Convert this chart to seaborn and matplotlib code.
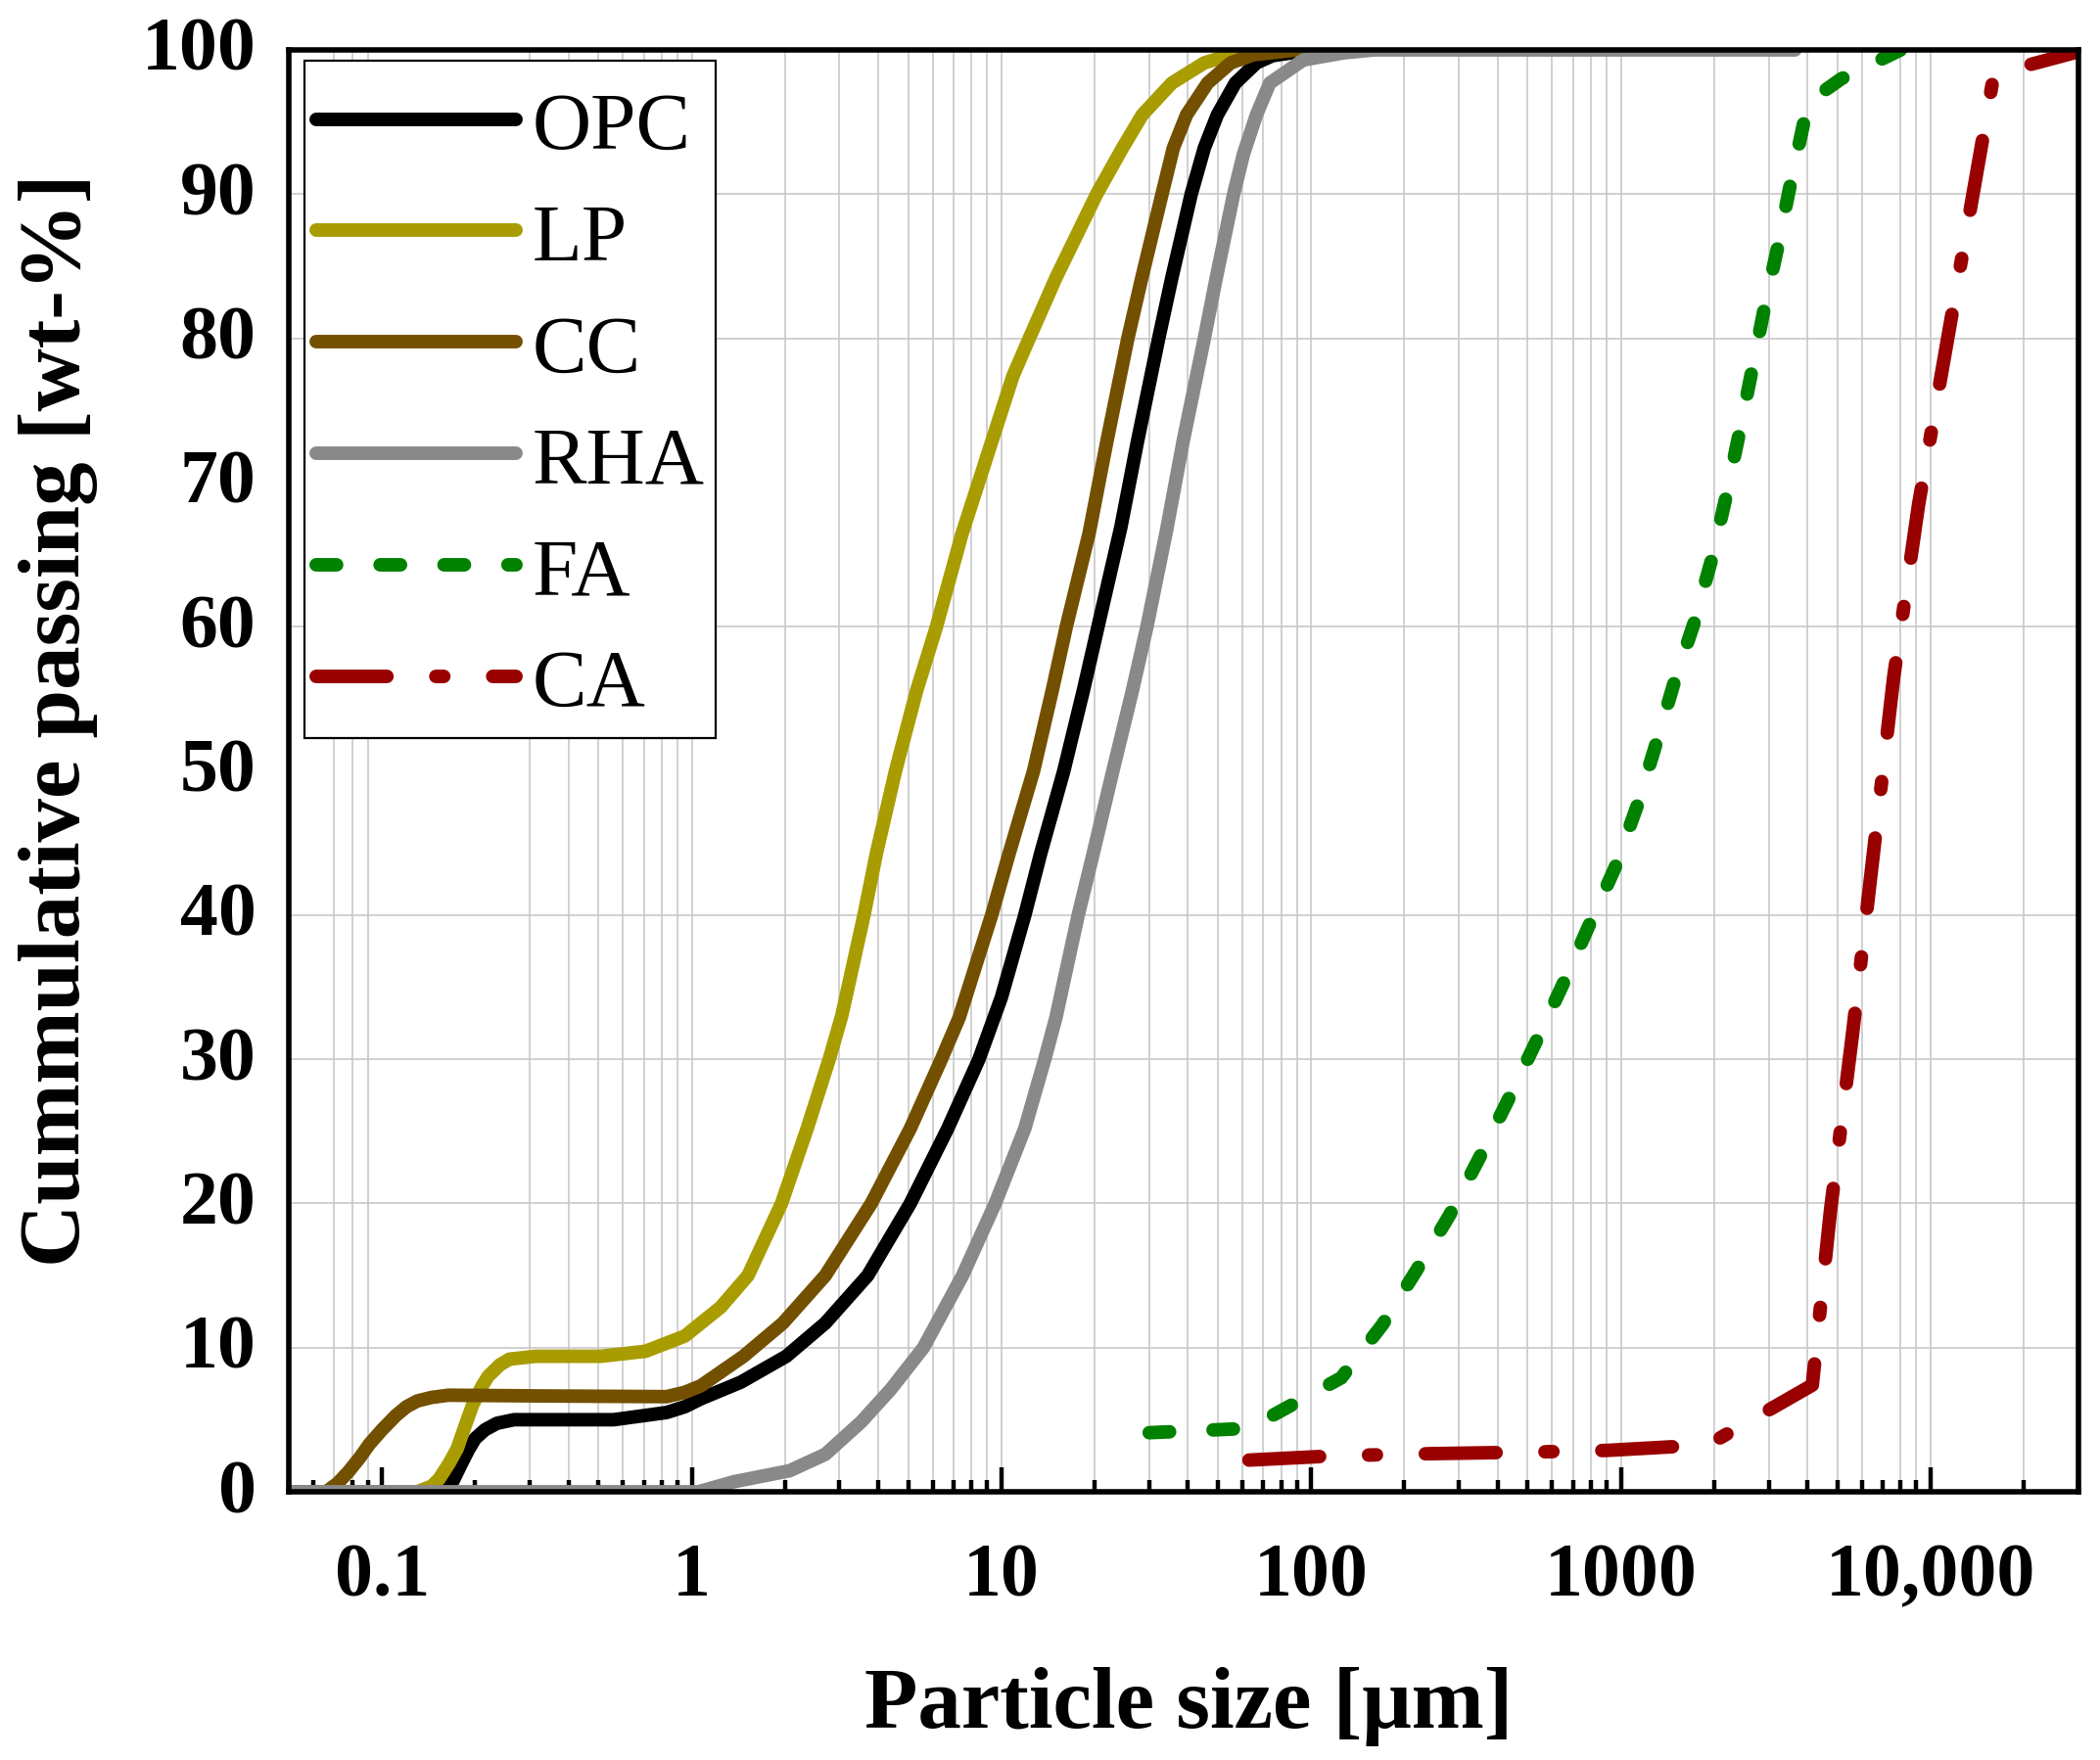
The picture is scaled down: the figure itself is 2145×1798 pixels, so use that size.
import numpy as np
import pandas as pd
import seaborn as sns
import matplotlib.pyplot as plt
from matplotlib.patches import Rectangle
from matplotlib.ticker import FixedLocator, FixedFormatter, LogLocator, NullFormatter
from matplotlib.transforms import ScaledTranslation

# particle size [um] / cumulative passing [wt-%]
opc_size = [0.05, 0.16, 0.17, 0.18, 0.19, 0.2, 0.215, 0.235, 0.267, 0.56, 0.83, 0.95, 1.07,
            1.44, 2.02, 2.7, 3.7, 5.08, 6.71, 8.46, 10.0, 11.9, 13.4, 15.9, 18.4, 20.5, 24.3,
            27.5, 32.2, 35.5, 41, 45.2, 49.8, 56.9, 66.6, 75, 100, 150]
opc_pass = [0, 0, 0.8, 1.9, 2.9, 3.7, 4.3, 4.75, 5.0, 5.0, 5.5, 5.9, 6.45,
            7.6, 9.4, 11.7, 15.0, 20, 25.2, 30, 34.3, 40, 44.3, 50, 55.6, 60, 66.9,
            72.85, 80, 84.2, 90, 93.2, 95.5, 97.7, 99.1, 99.6, 100, 100]

lp_size = [0.05, 0.13, 0.145, 0.153, 0.165, 0.175, 0.185, 0.196, 0.21, 0.22, 0.24, 0.258,
           0.314, 0.51, 0.71, 0.95, 1.24, 1.52, 1.95, 2.36, 2.78, 3.05, 3.6, 3.95, 4.55,
           5.33, 6.17, 7.45, 9.31, 10.9, 12.3, 15.0, 20.3, 24.6, 28.5, 35.5, 45.2, 54.9, 70, 150]
lp_pass = [0, 0, 0.4, 0.9, 2.0, 3.0, 4.5, 6.0, 7.3, 8.0, 8.8, 9.2,
           9.4, 9.4, 9.75, 10.8, 12.8, 15.0, 20, 25.2, 30, 33.0, 40, 44.3, 50,
           55.6, 60, 66.4, 72.85, 77.4, 80, 84.2, 90, 93.2, 95.5, 97.7, 99.1, 99.66, 100, 100]

cc_size = [0.05, 0.066, 0.072, 0.078, 0.085, 0.091, 0.1, 0.111, 0.12, 0.13, 0.145, 0.164,
           0.314, 0.83, 0.95, 1.07, 1.47, 1.97, 2.7, 3.8, 5.08, 6.4, 7.31, 9.3, 10.6, 12.7,
           14.6, 16.2, 19.2, 21.9, 25.6, 28.4, 33, 35.9, 39.6, 46.3, 55, 65, 90, 150]
cc_pass = [0, 0, 0.6, 1.4, 2.4, 3.3, 4.3, 5.3, 5.9, 6.3, 6.55, 6.7,
           6.65, 6.6, 6.9, 7.35, 9.4, 11.7, 15.0, 20, 25.2, 30, 32.9, 40, 44.3, 50,
           55.6, 60, 66.5, 72.85, 80, 84.2, 90, 93.2, 95.5, 97.7, 99.1, 99.66, 100, 100]

rha_size = [0.05, 1.05, 1.37, 2.07, 2.7, 3.53, 4.39, 5.6, 7.49, 9.55, 11.9, 13.8, 15, 17.7,
            19.8, 22.9, 26.5, 29.5, 34.0, 38.6, 45.2, 49.4, 56.2, 60.5, 66.6, 73.5, 94.3,
            127.6, 160, 3650]
rha_pass = [0, 0, 0.7, 1.46, 2.6, 4.86, 7.1, 10, 15, 20, 25.2, 30, 32.9, 40,
            44.3, 50, 55.6, 60, 66.5, 72.85, 80, 84.2, 90, 92.8, 95.5, 97.7, 99.3,
            99.8, 100, 100]

fa_size = [30, 63, 125, 170, 218, 280, 350, 433, 532, 650, 790, 958, 1130, 1300, 1490,
           1720, 1960, 2180, 2400, 2640, 2900, 3200, 3520, 3900, 4100, 5150, 8000]
fa_pass = [4.1, 4.4, 7.9, 11.6, 15.3, 19.2, 23.2, 27.2, 31.2, 35.2, 39.3, 43.3, 47.6, 51.9, 56.2,
           60.2, 64.6, 68.9, 73.2, 77.6, 82.0, 86.2, 90.6, 95.0, 96.5, 98.0, 100]

ca_size = [63, 120, 250, 500, 900, 1600, 2000, 4150, 4750, 5600, 6530, 7600, 9150, 11550,
           14500, 16000, 18700, 31500]
ca_pass = [2.2, 2.5, 2.65, 2.75, 2.87, 3.17, 3.5, 7.4, 19.5, 31.8, 44.2, 56.5, 68.5, 80.9,
           93, 98.3, 98.7, 100]

series = [
    ("OPC", opc_size, opc_pass, "#000000", "-"),
    ("LP", lp_size, lp_pass, "#a89c00", "-"),
    ("CC", cc_size, cc_pass, "#735000", "-"),
    ("RHA", rha_size, rha_pass, "#898989", "-"),
    ("FA", fa_size, fa_pass, "#008200", (0, (1.5, 3.2))),
    ("CA", ca_size, ca_pass, "#990000", (0, (5.2, 3.6, 0.58, 3.6))),
]

sns.set_style("white")
plt.rcParams["font.family"] = ["Liberation Serif", "DejaVu Serif"]
plt.rcParams.update({"text.color": "black", "axes.labelcolor": "black",
                     "xtick.color": "black", "ytick.color": "black"})

fig = plt.figure(figsize=(10.725, 8.995), dpi=200)
ax = fig.add_axes([0.1375, 0.1523, 0.8522, 0.8188])
ax.set_xscale("log")

for name, size, passing, color, ls in series:
    df = pd.DataFrame({"size": size, "passing": passing})
    sns.lineplot(data=df, x="size", y="passing", ax=ax, color=color, lw=5,
                 linestyle=ls, label=name, sort=False, estimator=None,
                 solid_capstyle="round", dash_capstyle="round")

ax.set_xlim(0.05, 30000)
ax.set_ylim(0, 100)

# ticks
major_x = [0.1, 1, 10, 100, 1000, 10000]
ax.xaxis.set_major_locator(FixedLocator(major_x))
ax.xaxis.set_major_formatter(FixedFormatter(["0.1", "1", "10", "100", "1000", "10,000"]))
ax.xaxis.set_minor_locator(LogLocator(base=10, subs=np.arange(2, 10), numticks=20))
ax.xaxis.set_minor_formatter(NullFormatter())
ax.set_yticks(np.arange(0, 101, 10))

ax.tick_params(axis="x", which="major", direction="in", length=9, width=1.6,
               labelsize=28, pad=18.5, top=False, bottom=True)
ax.tick_params(axis="x", which="minor", direction="in", length=4.2, width=1.6,
               top=False, bottom=True)
ax.tick_params(axis="y", which="major", length=0, labelsize=28, pad=12)
for lab in ax.get_xticklabels() + ax.get_yticklabels():
    lab.set_fontweight("bold")
for lab in ax.get_yticklabels():
    lab.set_transform(lab.get_transform() + ScaledTranslation(0, 7 / 200, fig.dpi_scale_trans))

# grid: the source image has a few grid lines missing
grid_kw = dict(color="#c8c8c8", lw=0.6, zorder=0.4)
skip_x = [0.06, 0.1, 0.2, 7000]
skip_y = [50, 70]
xlo, xhi = ax.get_xlim()
for v in list(ax.get_xticks(minor=True)) + major_x:
    if xlo < v < xhi and not any(np.isclose(v, s) for s in skip_x):
        ax.axvline(v, **grid_kw)
for v in ax.get_yticks():
    if 0 < v < 100 and v not in skip_y:
        ax.axhline(v, **grid_kw)

for sp in ax.spines.values():
    sp.set_visible(True)
    sp.set_color("black")
    sp.set_linewidth(2)

ax.set_xlabel("Particle size [μm]", fontsize=32, fontweight="bold")
ax.set_ylabel("Cummulative passing [wt-%]", fontsize=32, fontweight="bold")
ax.xaxis.label.set_verticalalignment("center")
ax.xaxis.set_label_coords(0.503, -0.148)
ax.yaxis.label.set_verticalalignment("center")
ax.yaxis.set_label_coords(-0.129, 0.536)

# legend: frame drawn separately to match the box of the original
handles, labels = ax.get_legend_handles_labels()
leg = ax.legend(handles, labels, loc="upper left", bbox_to_anchor=(0.0153, 0.9719),
                borderaxespad=0, borderpad=0, fontsize=30, frameon=False,
                handlelength=2.45, handletextpad=0.2, labelspacing=0.45)
leg.set_zorder(6)
ax.add_patch(Rectangle((0.0088, 0.5228), 0.2300, 0.4697, transform=ax.transAxes,
                       facecolor="white", edgecolor="black", lw=0.8, zorder=5.5,
                       clip_on=False))

fig.savefig("out.png", dpi=200)
